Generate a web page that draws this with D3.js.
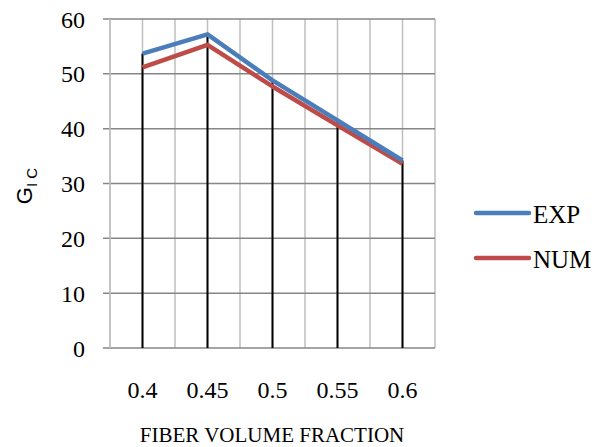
<!DOCTYPE html>
<html lang="en">
<head>
<meta charset="utf-8">
<style>
body { margin: 0; background: #fff; }
svg text { font-family: 'Liberation Serif', 'Times New Roman', serif; fill: #000; }
</style>
<script src="https://cdn.jsdelivr.net/npm/d3@7/dist/d3.min.js"></script>
</head>
<body>
<div id="chart"></div>
<script>
// values
var fractions = ["0.4", "0.45", "0.5", "0.55", "0.6"];
var expValues = [53.7, 57.2, 48.8, 41.5, 34.2];
var numValues = [51.2, 55.3, 47.7, 40.6, 33.6];
var yTicks = [0, 10, 20, 30, 40, 50, 60];

var series = [
  {name: "EXP", values: expValues, color: "#4a7ebb"},
  {name: "NUM", values: numValues, color: "#be4b48"}
];

var W = 613, H = 447;
var pLeft = 110, pRight = 435, pTop = 19, pBottom = 348;

var svg = d3.select("#chart").append("svg")
  .attr("width", W).attr("height", H);

var x = d3.scaleBand().domain(fractions).range([pLeft, pRight]);
var y = d3.scaleLinear().domain([0, 60]).range([pBottom, pTop]);

// vertical grid: band edges and centres
var vLines = [];
fractions.forEach(function(f) {
  vLines.push(x(f));
  vLines.push(x(f) + x.bandwidth() / 2);
});
vLines.push(pRight);
svg.append("g").selectAll("line").data(vLines).enter().append("line")
  .attr("x1", function(d) { return d; }).attr("x2", function(d) { return d; })
  .attr("y1", pTop).attr("y2", pBottom)
  .attr("stroke", "#bfbfbf").attr("stroke-width", 1.5);

// horizontal grid
svg.append("g").selectAll("line").data(yTicks).enter().append("line")
  .attr("x1", pLeft - 7).attr("x2", pRight)
  .attr("y1", function(d) { return y(d); }).attr("y2", function(d) { return y(d); })
  .attr("stroke", "#868686").attr("stroke-width", 1.5);

// axis line
svg.append("line")
  .attr("x1", pLeft).attr("x2", pLeft).attr("y1", pTop).attr("y2", pBottom)
  .attr("stroke", "#bfbfbf").attr("stroke-width", 1.5);

// drop lines from the highest point
svg.append("g").selectAll("line").data(fractions).enter().append("line")
  .attr("x1", function(d) { return x(d) + x.bandwidth() / 2; })
  .attr("x2", function(d) { return x(d) + x.bandwidth() / 2; })
  .attr("y1", function(d, i) { return y(d3.max(series, function(s) { return s.values[i]; })); })
  .attr("y2", pBottom)
  .attr("stroke", "#000").attr("stroke-width", 2);

var line = d3.line()
  .x(function(d, i) { return x(fractions[i]) + x.bandwidth() / 2; })
  .y(function(d) { return y(d); });

// draw NUM first so EXP sits on top
series.slice().reverse().forEach(function(s) {
  svg.append("path").datum(s.values)
    .attr("d", line)
    .attr("fill", "none")
    .attr("stroke", s.color)
    .attr("stroke-width", 4.5)
    .attr("stroke-linejoin", "round");
});

// y tick labels
svg.append("g").selectAll("text").data(yTicks).enter().append("text")
  .attr("x", 85).attr("y", function(d) { return y(d); })
  .attr("dy", "0.36em")
  .attr("text-anchor", "end")
  .style("font-size", "24px")
  .text(function(d) { return d; });

// x tick labels
svg.append("g").selectAll("text").data(fractions).enter().append("text")
  .attr("x", function(d) { return x(d) + x.bandwidth() / 2; })
  .attr("y", 398)
  .attr("text-anchor", "middle")
  .style("font-size", "24px")
  .text(function(d) { return d; });

// x title
svg.append("text")
  .attr("x", 272).attr("y", 442)
  .attr("text-anchor", "middle")
  .style("font-size", "21px")
  .text("FIBER VOLUME FRACTION");

// y title G_IC
var yt = svg.append("text")
  .attr("transform", "translate(32,186) rotate(-90)")
  .attr("text-anchor", "middle")
  .style("font-family", "'Liberation Sans', Arial, sans-serif")
  .style("font-size", "22px");
yt.append("tspan").text("G");
yt.append("tspan").attr("dy", 5).style("font-size", "15px").text("I C");

// legend
var lg = svg.append("g").selectAll("g").data(series).enter().append("g")
  .attr("transform", function(d, i) { return "translate(475," + (213 + i * 45) + ")"; });
lg.append("line")
  .attr("x1", 1).attr("x2", 54)
  .attr("stroke", function(d) { return d.color; })
  .attr("stroke-width", 4.5).attr("stroke-linecap", "round");
lg.append("text")
  .attr("x", 58).attr("y", 10)
  .style("font-size", "25px")
  .text(function(d) { return d.name; });
</script>
</body>
</html>
